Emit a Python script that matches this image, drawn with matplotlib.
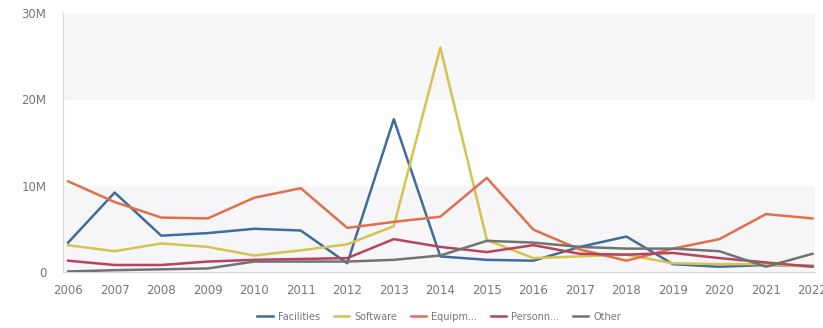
import numpy as np
import matplotlib
matplotlib.use('Agg')
import matplotlib.pyplot as plt

# Values in millions
years = list(range(2006, 2023))
facilities = [3.4, 9.2, 4.2, 4.5, 5.0, 4.8, 1.0, 17.7, 1.8, 1.4, 1.3, 2.9, 4.1, 0.9, 0.6, 0.8, 0.7]
software = [3.1, 2.4, 3.3, 2.9, 1.9, 2.5, 3.2, 5.3, 26.0, 3.7, 1.6, 1.8, 2.0, 1.0, 0.9, 0.9, 0.6]
equipment = [10.5, 8.1, 6.3, 6.2, 8.6, 9.7, 5.1, 5.8, 6.4, 10.9, 4.9, 2.6, 1.3, 2.7, 3.8, 6.7, 6.2]
personnel = [1.3, 0.8, 0.8, 1.2, 1.4, 1.5, 1.6, 3.8, 2.9, 2.3, 3.1, 2.1, 2.0, 2.2, 1.6, 1.1, 0.6]
other = [0.05, 0.2, 0.3, 0.4, 1.2, 1.2, 1.2, 1.4, 1.9, 3.6, 3.4, 2.9, 2.7, 2.7, 2.4, 0.6, 2.1]

series = [
    ('Facilities', facilities, '#3f6c9b'),
    ('Software', software, '#d6c250'),
    ('Equipm...', equipment, '#e0704a'),
    ('Personn...', personnel, '#b8435c'),
    ('Other', other, '#6f7473'),
]

fig = plt.figure(figsize=(8.23, 3.28), dpi=100)
ax = fig.add_axes([0.0766, 0.171, 0.914, 0.789])

# alternating background bands
ax.axhspan(0, 10e6, color='#f6f6f8', zorder=0)
ax.axhspan(20e6, 30e6, color='#f6f6f6', zorder=0)

for name, vals, col in series:
    ax.plot(years, np.array(vals) * 1e6, color=col, lw=1.8, label=name, zorder=3)

ax.set_xlim(2005.89, 2022.06)
ax.set_ylim(0, 30e6)
ax.set_xticks(years)
ax.set_xticklabels([str(y) for y in years])
ax.set_yticks([0, 10e6, 20e6, 30e6])
ax.set_yticklabels(['0', '10M', '20M', '30M'])
ax.tick_params(axis='both', length=0, labelsize=8.5, colors='#777777')
ax.tick_params(axis='x', pad=9)
ax.tick_params(axis='y', pad=12)

for s in ['top', 'right']:
    ax.spines[s].set_visible(False)
ax.spines['left'].set_color('#d8d8d8')
ax.spines['bottom'].set_color('#d8d8d8')

ax.legend(loc='upper center', bbox_to_anchor=(0.5, -0.12), ncol=5, frameon=False,
          fontsize=7, labelcolor='#777777', handlelength=1.6, columnspacing=1.4,
          handletextpad=0.5)

fig.savefig('out.png', dpi=100)
